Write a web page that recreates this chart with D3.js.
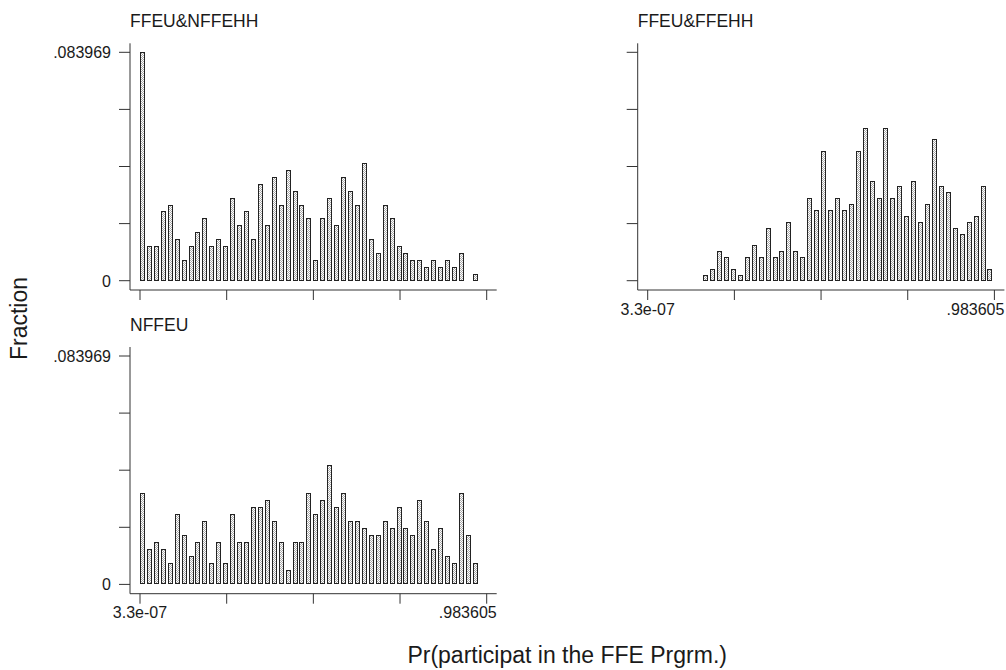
<!DOCTYPE html>
<html>
<head>
<meta charset="utf-8">
<script src="https://cdn.jsdelivr.net/npm/d3@7"></script>
<style>
  body { margin: 0; background: #fff; }
  svg { display: block; }
  text { font-family: "Liberation Sans", Arial, sans-serif; fill: #1a1a1a; }
</style>
</head>
<body>
<svg id="chart"></svg>
<script>
// histogram counts per bin (50 bins)
const panelTitles = ["FFEU&NFFEHH", "FFEU&FFEHH", "NFFEU"];
const countsFfeuNffehh = [33, 5, 5, 10, 11, 6, 3, 5, 7, 9, 5, 6, 5, 12, 8, 10, 6, 14, 8, 15,
  11, 16, 13, 11, 9, 3, 9, 12, 8, 15, 13, 11, 17, 6, 4, 11, 9, 5, 4, 3,
  3, 2, 3, 2, 3, 2, 4, 0, 1, 0];
const countsFfeuFfehh = [0, 0, 0, 0, 0, 0, 0, 0, 1, 2, 5, 4, 2, 1, 4, 6, 4, 9, 4, 5,
  10, 5, 4, 14, 12, 22, 12, 14, 12, 13, 22, 26, 17, 14, 26, 14, 16, 11, 17, 10,
  13, 24, 16, 15, 9, 8, 10, 11, 16, 2];
const countsNffeu = [13, 5, 6, 5, 3, 10, 7, 4, 6, 9, 3, 6, 3, 10, 6, 6, 11, 11, 12, 9,
  6, 2, 6, 6, 13, 10, 12, 17, 11, 13, 9, 9, 8, 7, 7, 9, 8, 11, 8, 7,
  12, 9, 5, 8, 4, 3, 13, 7, 3, 0];

const xMin = 3.3e-7, xMax = 0.983605;
const yMax = 0.083969;
const xTickLabels = ["3.3e-07", ".983605"];
const yTickLabels = ["0", ".083969"];
const yTitle = "Fraction";
const xTitle = "Pr(participat in the FFE Prgrm.)";

const W = 1006, H = 670;
const svg = d3.select("#chart").attr("width", W).attr("height", H);

svg.append("defs")
  .append("pattern")
  .attr("id", "dots")
  .attr("width", 2)
  .attr("height", 2)
  .attr("patternUnits", "userSpaceOnUse")
  .call((p) => {
    p.append("rect").attr("width", 2).attr("height", 2).attr("fill", "#fff");
    p.append("rect").attr("width", 1).attr("height", 1).attr("fill", "#a8a8a8");
    p.append("rect").attr("x", 1).attr("y", 1).attr("width", 1).attr("height", 1).attr("fill", "#a8a8a8");
  });

// panel frames: axis x position, top of y axis
const colX = [130, 637.7];
const rowY = [43.3, 347];
const pad = 10; // gap between axis line and first/last tick
const plotW = 346.7, plotH = 228.4;

const panels = [
  { title: panelTitles[0], counts: countsFfeuNffehh, col: 0, row: 0, yLab: true, xLab: false },
  { title: panelTitles[1], counts: countsFfeuFfehh, col: 1, row: 0, yLab: false, xLab: true },
  { title: panelTitles[2], counts: countsNffeu, col: 0, row: 1, yLab: true, xLab: true },
];

const nBins = 50;
const binW = (xMax - xMin) / nBins;

panels.forEach((p) => {
  const ax = colX[p.col];
  const top = rowY[p.row];
  const g = svg.append("g");

  const x = d3.scaleLinear().domain([xMin, xMax]).range([ax + pad, ax + pad + plotW]);
  const y = d3.scaleLinear().domain([0, yMax]).range([top + 9 + plotH, top + 9]);
  const axisY = y(0) + 9.3;
  const axisRight = x(xMax) + pad;

  const total = d3.sum(p.counts);
  const bins = p.counts.map((c, i) => ({ x0: xMin + i * binW, frac: c / total }));
  const step = x(xMin + binW) - x(xMin);

  g.selectAll("rect.bar")
    .data(bins.filter((d) => d.frac > 0))
    .join("rect")
    .attr("class", "bar")
    .attr("x", (d) => Math.round(x(d.x0)) + 0.5)
    .attr("y", (d) => Math.round(y(d.frac)) + 0.5)
    .attr("width", Math.round(step * 0.68) - 1)
    .attr("height", (d) => Math.round(y(0)) - Math.round(y(d.frac)) - 1)
    .attr("fill", "url(#dots)")
    .attr("stroke", "#222")
    .attr("stroke-width", 1);

  // y axis
  g.append("line")
    .attr("x1", ax).attr("x2", ax)
    .attr("y1", top).attr("y2", axisY)
    .attr("stroke", "#333");
  const yTicks = d3.range(5).map((i) => (yMax * i) / 4);
  g.selectAll("line.ytick")
    .data(yTicks)
    .join("line")
    .attr("class", "ytick")
    .attr("x1", ax - 11).attr("x2", ax)
    .attr("y1", (d) => y(d)).attr("y2", (d) => y(d))
    .attr("stroke", "#333");
  if (p.yLab) {
    g.selectAll("text.ylab")
      .data([0, yMax])
      .join("text")
      .attr("class", "ylab")
      .attr("x", ax - 19)
      .attr("y", (d) => y(d) + 6)
      .attr("text-anchor", "end")
      .style("font-size", "16px")
      .text((d, i) => yTickLabels[i]);
  }

  // x axis
  g.append("line")
    .attr("x1", ax).attr("x2", axisRight)
    .attr("y1", axisY).attr("y2", axisY)
    .attr("stroke", "#333");
  const xTicks = d3.range(5).map((i) => xMin + ((xMax - xMin) * i) / 4);
  g.selectAll("line.xtick")
    .data(xTicks)
    .join("line")
    .attr("class", "xtick")
    .attr("x1", (d) => x(d)).attr("x2", (d) => x(d))
    .attr("y1", axisY).attr("y2", axisY + 10)
    .attr("stroke", "#333");
  if (p.xLab) {
    g.append("text")
      .attr("x", x(xMin))
      .attr("y", axisY + 24.5)
      .attr("text-anchor", "middle")
      .style("font-size", "16px")
      .text(xTickLabels[0]);
    g.append("text")
      .attr("x", axisRight)
      .attr("y", axisY + 24.5)
      .attr("text-anchor", "end")
      .style("font-size", "16px")
      .text(xTickLabels[1]);
  }

  // panel title
  g.append("text")
    .attr("x", ax)
    .attr("y", y(yMax) - 25.5)
    .style("font-size", "17.5px")
    .text(p.title);
});

// axis titles centred over the plot regions
const leftEdge = colX[0];
const rightEdge = colX[1] + 2 * pad + plotW;
const topEdge = rowY[0];
const bottomEdge = rowY[1] + 18.3 + plotH;

svg.append("text")
  .attr("transform", `translate(27,${(topEdge + bottomEdge) / 2}) rotate(-90)`)
  .attr("text-anchor", "middle")
  .style("font-size", "23px")
  .text(yTitle);

svg.append("text")
  .attr("x", (leftEdge + rightEdge) / 2)
  .attr("y", 663)
  .attr("text-anchor", "middle")
  .style("font-size", "23px")
  .text(xTitle);
</script>
</body>
</html>
